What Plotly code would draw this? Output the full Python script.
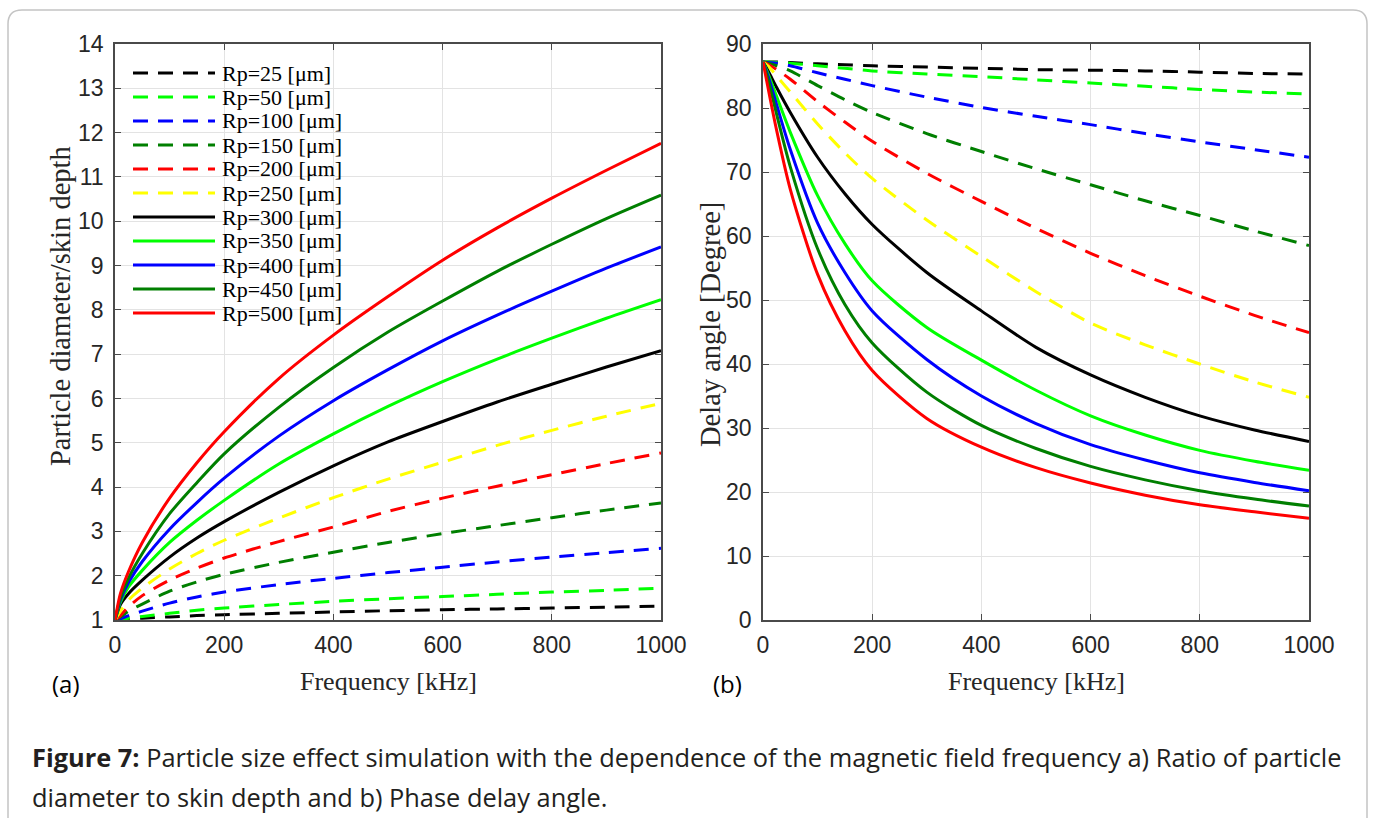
import plotly.graph_objects as go

# ---------------- data ----------------
freq = [0, 10, 25, 50, 100, 150, 200, 300, 400, 500, 600, 700, 800, 900, 1000]

labels = ["Rp=25 [\u03bcm]", "Rp=50 [\u03bcm]", "Rp=100 [\u03bcm]", "Rp=150 [\u03bcm]",
          "Rp=200 [\u03bcm]", "Rp=250 [\u03bcm]", "Rp=300 [\u03bcm]", "Rp=350 [\u03bcm]",
          "Rp=400 [\u03bcm]", "Rp=450 [\u03bcm]", "Rp=500 [\u03bcm]"]

# (a) particle diameter / skin depth
ratio_25 = [1, 1.0, 1.02, 1.04, 1.07, 1.10, 1.12, 1.15, 1.18, 1.21, 1.23, 1.25, 1.27, 1.29, 1.31]
ratio_50 = [1, 1.01, 1.04, 1.08, 1.15, 1.22, 1.27, 1.35, 1.42, 1.48, 1.53, 1.58, 1.63, 1.67, 1.72]
ratio_100 = [1, 1.03, 1.10, 1.20, 1.38, 1.52, 1.63, 1.80, 1.94, 2.07, 2.19, 2.31, 2.42, 2.52, 2.62]
ratio_150 = [1, 1.07, 1.20, 1.36, 1.65, 1.86, 2.03, 2.30, 2.53, 2.75, 2.95, 3.13, 3.31, 3.48, 3.64]
ratio_200 = [1, 1.10, 1.30, 1.55, 1.90, 2.17, 2.40, 2.77, 3.10, 3.45, 3.75, 4.02, 4.28, 4.53, 4.77]
ratio_250 = [1, 1.20, 1.45, 1.72, 2.15, 2.50, 2.80, 3.30, 3.76, 4.18, 4.56, 4.94, 5.28, 5.60, 5.89]
ratio_300 = [1, 1.35, 1.60, 1.90, 2.42, 2.85, 3.22, 3.88, 4.48, 5.02, 5.48, 5.92, 6.32, 6.71, 7.08]
ratio_350 = [1, 1.40, 1.75, 2.12, 2.75, 3.25, 3.70, 4.52, 5.20, 5.82, 6.38, 6.89, 7.36, 7.81, 8.23]
ratio_400 = [1, 1.45, 1.85, 2.32, 3.05, 3.65, 4.20, 5.15, 5.95, 6.65, 7.30, 7.88, 8.42, 8.94, 9.42]
ratio_450 = [1, 1.50, 1.95, 2.50, 3.40, 4.10, 4.75, 5.80, 6.70, 7.50, 8.20, 8.87, 9.48, 10.06, 10.59]
ratio_500 = [1, 1.60, 2.10, 2.75, 3.75, 4.55, 5.25, 6.45, 7.43, 8.30, 9.12, 9.85, 10.52, 11.15, 11.76]

# (b) delay angle [degree]
angle_25 = [87.2, 87.2, 87.2, 87.1, 86.9, 86.75, 86.6, 86.4, 86.2, 86.0, 85.9, 85.8, 85.6, 85.4, 85.3]
angle_50 = [87.2, 87.2, 87.1, 87.0, 86.6, 86.2, 85.8, 85.3, 84.9, 84.4, 83.9, 83.4, 82.9, 82.5, 82.2]
angle_100 = [87.2, 87.1, 87.0, 86.6, 85.5, 84.5, 83.5, 81.7, 80.1, 78.7, 77.4, 76.0, 74.7, 73.5, 72.3]
angle_150 = [87.2, 87.0, 86.6, 85.8, 83.5, 81.3, 79.3, 76.0, 73.2, 70.5, 68.0, 65.5, 63.2, 60.8, 58.5]
angle_200 = [87.2, 86.8, 86.0, 84.5, 81.0, 77.8, 74.8, 69.8, 65.4, 61.2, 57.3, 53.8, 50.6, 47.6, 44.9]
angle_250 = [87.2, 86.5, 85.0, 82.5, 77.5, 73.0, 69.0, 62.5, 56.8, 51.3, 46.4, 43.0, 40.0, 37.2, 34.8]
angle_300 = [87.2, 85.7, 83.2, 79.3, 72.3, 66.6, 61.8, 54.3, 48.3, 42.6, 38.3, 34.8, 31.9, 29.7, 27.9]
angle_350 = [87.2, 85.2, 81.8, 76.2, 66.3, 58.8, 53.0, 45.7, 40.6, 35.9, 31.9, 28.9, 26.5, 24.8, 23.4]
angle_400 = [87.2, 84.8, 80.5, 73.5, 62.0, 54.3, 48.3, 40.7, 35.0, 30.7, 27.4, 25.0, 23.0, 21.5, 20.2]
angle_450 = [87.2, 84.2, 79.0, 70.8, 58.0, 49.3, 43.3, 35.6, 30.4, 26.8, 24.0, 21.9, 20.2, 18.9, 17.8]
angle_500 = [87.2, 82.8, 76.5, 67.3, 54.0, 45.2, 39.0, 31.5, 27.0, 23.8, 21.4, 19.5, 18.0, 16.9, 15.9]

ratio_series = [ratio_25, ratio_50, ratio_100, ratio_150, ratio_200, ratio_250,
                ratio_300, ratio_350, ratio_400, ratio_450, ratio_500]
angle_series = [angle_25, angle_50, angle_100, angle_150, angle_200, angle_250,
                angle_300, angle_350, angle_400, angle_450, angle_500]

x_ticks = [0, 200, 400, 600, 800, 1000]
ya_ticks = list(range(1, 15))
yb_ticks = list(range(0, 91, 10))

# ---------------- styles ----------------
colors = ["#000000", "#00ff00", "#0000ff", "#007f00", "#ff0000", "#ffff00",
          "#000000", "#00ff00", "#0000ff", "#007f00", "#ff0000"]
dashes = ["15px,10px"] * 6 + ["solid"] * 5

W, H = 1375, 818
def px(x):
    return x / W
def py(y):
    return 1 - y / H

fig = go.Figure()
for i in range(11):
    fig.add_trace(go.Scatter(x=freq, y=ratio_series[i], mode="lines", name=labels[i],
                             line=dict(color=colors[i], width=3, dash=dashes[i], shape="spline", smoothing=0.8),
                             xaxis="x", yaxis="y", showlegend=False))
for i in range(11):
    fig.add_trace(go.Scatter(x=freq, y=angle_series[i], mode="lines", name=labels[i],
                             line=dict(color=colors[i], width=3, dash=dashes[i], shape="spline", smoothing=0.8),
                             xaxis="x2", yaxis="y2", showlegend=False))

axis_common = dict(showline=True, linecolor="#4a4a4a", linewidth=1.5, mirror="ticks",
                   ticks="inside", ticklen=6, tickcolor="#4a4a4a", showgrid=True,
                   gridcolor="#e3e3e3", gridwidth=1, zeroline=False, automargin=False,
                   tickfont=dict(family="Liberation Sans, Arial", size=23, color="#262626"))

x1dom = [px(115), px(661)]
x2dom = [px(763), px(1309)]
ydom = [py(620), py(44)]

fig.update_layout(
    template="none",
    width=W, height=H, margin=dict(l=0, r=0, t=0, b=0, autoexpand=False),
    paper_bgcolor="white", plot_bgcolor="white",
    xaxis=dict(domain=x1dom, range=[0, 1000], tickvals=x_ticks, anchor="y", ticklabelstandoff=4, **axis_common),
    yaxis=dict(domain=ydom, range=[1, 14], tickvals=ya_ticks, anchor="x", ticklabelstandoff=5, **axis_common),
    xaxis2=dict(domain=x2dom, range=[0, 1000], tickvals=x_ticks, anchor="y2", ticklabelstandoff=4, **axis_common),
    yaxis2=dict(domain=ydom, range=[0, 90], tickvals=yb_ticks, anchor="x2", ticklabelstandoff=5, **axis_common),
)

shapes = []
# outer rounded border
x0, x1, y0, y1, r = 8, 1367, 10, 840, 14
path = (f"M {px(x0)},{py(y0 + r)} Q {px(x0)},{py(y0)} {px(x0 + r)},{py(y0)} "
        f"L {px(x1 - r)},{py(y0)} Q {px(x1)},{py(y0)} {px(x1)},{py(y0 + r)} "
        f"L {px(x1)},{py(y1)} L {px(x0)},{py(y1)} Z")
shapes.append(dict(type="path", path=path, xref="paper", yref="paper",
                   line=dict(color="#c4c4c4", width=1.5), fillcolor="rgba(0,0,0,0)"))
# legend background box (below traces, above grid)
shapes.append(dict(type="rect", xref="x", yref="y",
                   x0=(124 - 115) / 0.546, x1=(342 - 115) / 0.546,
                   y0=1 + (620 - 326) / 44.3, y1=1 + (620 - 60) / 44.3,
                   fillcolor="white", line=dict(width=0), layer="below"))
annotations = []
for i in range(11):
    yy = py(73 + 24 * i)
    shapes.append(dict(type="line", xref="paper", yref="paper", x0=px(133), x1=px(215),
                       y0=yy, y1=yy, line=dict(color=colors[i], width=3, dash=dashes[i])))
    annotations.append(dict(text=labels[i], x=px(220), y=yy, xref="paper", yref="paper",
                            xanchor="left", yanchor="middle", showarrow=False,
                            font=dict(family="Liberation Serif, Times New Roman", size=22, color="#000000")))

title_font_x = dict(family="Liberation Serif, Times New Roman", size=26, color="#262626")
title_font_y = dict(family="Liberation Serif, Times New Roman", size=28.5, color="#262626")
# axis titles
annotations.append(dict(text="Frequency [kHz]", x=px(388), y=py(681), xref="paper", yref="paper",
                        xanchor="center", yanchor="middle", showarrow=False, font=title_font_x))
annotations.append(dict(text="Frequency [kHz]", x=px(1036), y=py(681), xref="paper", yref="paper",
                        xanchor="center", yanchor="middle", showarrow=False, font=title_font_x))
annotations.append(dict(text="Particle diameter/skin depth", x=px(60), y=py(306), xref="paper", yref="paper",
                        xanchor="center", yanchor="middle", showarrow=False, textangle=-90, font=title_font_y))
annotations.append(dict(text="Delay angle [Degree]", x=px(710), y=py(325), xref="paper", yref="paper",
                        xanchor="center", yanchor="middle", showarrow=False, textangle=-90, font=title_font_y))

# panel labels
annotations.append(dict(text="(a)", x=px(50), y=py(683), xref="paper", yref="paper",
                        xanchor="left", yanchor="middle", showarrow=False,
                        font=dict(family="Open Sans", size=24, color="#000000")))
annotations.append(dict(text="(b)", x=px(711), y=py(683), xref="paper", yref="paper",
                        xanchor="left", yanchor="middle", showarrow=False,
                        font=dict(family="Open Sans", size=24, color="#000000")))
# caption
cap_font = dict(family="Open Sans", size=25.4, color="#231f20")
annotations.append(dict(text="<b>Figure 7:</b> Particle size effect simulation with the dependence of the magnetic field frequency a) Ratio of particle",
                        x=px(30), y=py(757), xref="paper", yref="paper", xanchor="left", yanchor="middle",
                        showarrow=False, font=cap_font))
annotations.append(dict(text="diameter to skin depth and b) Phase delay angle.",
                        x=px(30), y=py(797), xref="paper", yref="paper", xanchor="left", yanchor="middle",
                        showarrow=False, font=cap_font))

fig.update_layout(shapes=shapes, annotations=annotations)
fig.write_html("out.html", config={"displayModeBar": False},
               post_script="document.body.style.margin='0';document.body.style.overflow='hidden';")
